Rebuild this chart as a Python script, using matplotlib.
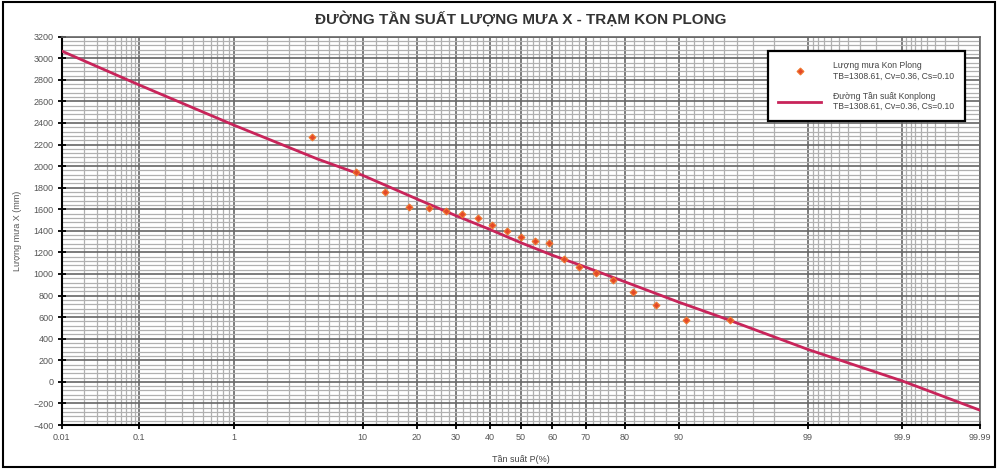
import numpy as np
import matplotlib
matplotlib.use('Agg')
import matplotlib.pyplot as plt
from matplotlib.patches import Rectangle
from matplotlib.ticker import MultipleLocator
from statistics import NormalDist

# so lieu doc tu hinh
prob_obs = [4.55, 9.09, 13.64, 18.18, 22.73, 27.27, 31.82, 36.36, 40.91, 45.45, 50.0,
            54.55, 59.09, 63.64, 68.18, 72.73, 77.27, 81.82, 86.36, 90.91, 95.45]
rain_obs = [2267, 1942, 1762, 1623, 1614, 1583, 1555, 1515, 1453, 1400, 1345,
            1305, 1289, 1135, 1066, 1005, 943, 834, 711, 575, 570]

curve_p = [0.01, 0.1, 1, 5, 10, 20, 30, 40, 50, 60, 70, 80, 90, 95, 99, 99.9, 99.99]
curve_x = [3067, 2752, 2381, 2065, 1915, 1695, 1540, 1414, 1290, 1175, 1064, 928, 738, 590, 300, 8, -263]

major_p = [0.01, 0.1, 1, 10, 20, 30, 40, 50, 60, 70, 80, 90, 99, 99.9, 99.99]
major_lbl = ['0.01', '0.1', '1', '10', '20', '30', '40', '50', '60', '70', '80', '90', '99', '99.9', '99.99']
minor_p = ([i / 100 for i in range(2, 10)] + [i / 10 for i in range(2, 10)] + list(range(2, 10))
           + [12, 14, 16, 18, 22, 24, 26, 28, 32, 34, 36, 38, 42, 44, 46, 48, 52, 54, 56, 58,
              62, 64, 66, 68, 72, 74, 76, 78, 82, 84, 86, 88]
           + list(range(91, 99)) + [99 + i / 10 for i in range(1, 9)] + [99.9 + i / 100 for i in range(1, 9)])

ten_obs = 'Lượng mưa Kon Plong\nTB=1308.61, Cv=0.36, Cs=0.10'
ten_dg = 'Đường Tần suất Konplong\nTB=1308.61, Cv=0.36, Cs=0.10'

_nd = NormalDist()

def prob_fwd(p):
    p = np.clip(np.asarray(p, float), 1e-6, 100 - 1e-6)
    return np.vectorize(lambda v: _nd.inv_cdf(v / 100), otypes=[float])(p)

def prob_inv(z):
    return np.vectorize(lambda v: _nd.cdf(v) * 100, otypes=[float])(np.asarray(z, float))


plt.rcParams['font.family'] = ['Liberation Sans', 'DejaVu Sans']

fig = plt.figure(figsize=(9.98, 4.69), dpi=100)
ax = fig.add_axes([0.0618, 0.0938, 0.9202, 0.828])

ax.set_xscale('function', functions=(prob_fwd, prob_inv))
ax.set_xlim(0.01, 99.99)
ax.set_ylim(-400, 3200)

ax.set_xticks(major_p)
ax.set_xticklabels(major_lbl)
ax.set_xticks(minor_p, minor=True)
ax.set_yticks(range(-400, 3201, 200))
ax.yaxis.set_minor_locator(MultipleLocator(40))

ax.grid(which='minor', color='#b0b0b0', lw=0.9)
ax.grid(which='major', color='#666666', lw=1.2)
ax.set_axisbelow(True)

ax.tick_params(which='major', direction='inout', length=6, width=1.3, color='black',
               labelsize=6.5, labelcolor='#555555', pad=3)
ax.tick_params(which='minor', length=0)

for s in ['left', 'bottom']:
    ax.spines[s].set_linewidth(1.5)
    ax.spines[s].set_color('black')
for s in ['top', 'right']:
    ax.spines[s].set_linewidth(1.2)
    ax.spines[s].set_color('#666666')

ax.plot(curve_p, curve_x, color='#c8245a', lw=2.0, label=ten_dg, zorder=3)
ax.plot(prob_obs, rain_obs, 'D', ms=3.5, color='#e4472a', mec='#f07a30', mew=0.8,
        linestyle='none', label=ten_obs, zorder=4)

h, l = ax.get_legend_handles_labels()
leg = ax.legend([h[1], h[0]], [l[1], l[0]], loc='upper right', bbox_to_anchor=(0.988, 0.975),
                fontsize=6.2, fancybox=False, framealpha=1, edgecolor='black',
                handlelength=5, labelspacing=1.3, borderpad=1.2, handletextpad=1.4)
leg.get_frame().set_linewidth(1.6)
for t in leg.get_texts():
    t.set_color('#444444')

ax.set_title('ĐƯỜNG TẦN SUẤT LƯỢNG MƯA X - TRẠM KON PLONG', fontsize=11,
             fontweight='bold', color='#333333', pad=9)
ax.set_ylabel('Lượng mưa X (mm)', fontsize=6.5, color='#555555', labelpad=8)
ax.set_xlabel('Tần suất P(%)', fontsize=6.5, color='#444444', labelpad=9)

fig.patches.append(Rectangle((0.003, 0.004), 0.994, 0.992, transform=fig.transFigure,
                             fill=False, ec='black', lw=1.5))

fig.savefig('out.png', dpi=100)
